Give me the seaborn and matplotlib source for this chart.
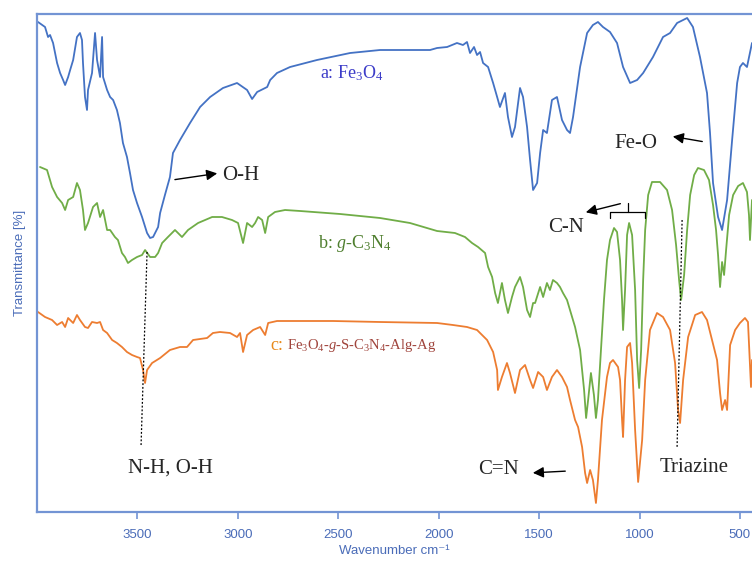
import pandas as pd
import matplotlib.pyplot as plt
import seaborn as sns

# FTIR spectra (wavenumber in cm-1, transmittance in arbitrary offset units)
wn_a = [3995, 3960, 3945, 3935, 3920, 3910, 3900, 3885, 3870, 3860, 3845, 3835, 3820, 3801,
        3786, 3776, 3771, 3761, 3751, 3746, 3726, 3711, 3701, 3686, 3676, 3671, 3651, 3636,
        3621, 3602, 3587, 3572, 3552, 3537, 3522, 3502, 3477, 3452, 3437, 3422, 3397, 3387,
        3363, 3338, 3323, 3288, 3238, 3188, 3138, 3074, 3004, 2954, 2929, 2904, 2854, 2839,
        2805, 2740, 2606, 2441, 2292, 2043, 2008, 1958, 1909, 1879, 1859, 1844, 1824, 1809,
        1794, 1779, 1754, 1729, 1709, 1695, 1670, 1655, 1635, 1620, 1595, 1580, 1560, 1545,
        1530, 1510, 1495, 1480, 1461, 1436, 1411, 1386, 1361, 1346, 1331, 1296, 1261, 1232,
        1207, 1182, 1147, 1112, 1082, 1047, 1012, 982, 933, 883, 848, 813, 763, 734, 699,
        664, 649, 634, 609, 589, 564, 539, 514, 500, 485, 465, 440]
t_a = [98.0, 97.0, 95.0, 95.4, 93.8, 91.8, 89.8, 87.8, 86.4, 85.4, 87.0, 88.4, 90.4, 95.0,
       95.8, 94.4, 89.8, 83.0, 80.4, 84.4, 87.8, 95.8, 90.4, 87.0, 95.0, 87.0, 84.4, 83.0,
       82.4, 80.4, 77.8, 73.8, 71.0, 67.8, 64.4, 61.8, 59.0, 55.8, 54.8, 55.0, 57.0, 59.8,
       63.4, 67.0, 71.8, 74.4, 77.8, 81.0, 83.0, 84.8, 85.8, 84.4, 82.6, 84.0, 85.0, 86.4,
       87.8, 89.0, 90.4, 91.8, 92.4, 92.4, 92.8, 93.0, 93.8, 93.4, 94.0, 91.8, 93.0, 91.4,
       92.0, 89.8, 89.0, 85.8, 83.0, 81.0, 83.8, 79.0, 75.0, 77.0, 84.8, 83.0, 77.0, 70.4,
       64.4, 65.8, 71.8, 76.4, 75.8, 82.4, 83.0, 78.4, 76.4, 75.8, 79.0, 89.0, 95.8, 97.4,
       98.0, 97.0, 96.0, 93.8, 89.0, 85.8, 86.4, 87.8, 91.0, 95.0, 95.8, 97.8, 98.8, 97.0, 91.0,
       83.8, 75.8, 65.8, 59.0, 56.4, 62.4, 74.4, 85.8, 89.0, 89.8, 89.0, 93.8]

wn_b = [3985, 3950, 3925, 3900, 3875, 3860, 3845, 3820, 3801, 3786, 3771, 3761, 3746, 3721,
        3701, 3686, 3671, 3651, 3636, 3612, 3597, 3577, 3562, 3547, 3527, 3502, 3477, 3462,
        3437, 3412, 3397, 3377, 3348, 3313, 3278, 3248, 3198, 3128, 3079, 3029, 2999, 2974,
        2954, 2929, 2914, 2899, 2879, 2864, 2849, 2815, 2765, 2690, 2491, 2292, 2143, 2008,
        1919, 1869, 1834, 1804, 1769, 1754, 1734, 1719, 1705, 1685, 1670, 1655, 1635, 1620,
        1595, 1580, 1560, 1545, 1530, 1520, 1495, 1480, 1461, 1446, 1431, 1411, 1396, 1381,
        1361, 1346, 1321, 1296, 1276, 1266, 1256, 1242, 1227, 1217, 1207, 1192, 1177, 1162,
        1147, 1127, 1112, 1097, 1087, 1082, 1072, 1062, 1052, 1037, 1022, 1012, 1002, 992,
        982, 972, 957, 938, 898, 863, 838, 818, 803, 793, 778, 763, 748, 728, 709, 679, 654,
        634, 619, 609, 599, 589, 579, 569, 554, 534, 509, 485, 465, 455, 450, 440]
t_b = [69.0, 68.4, 65.0, 63.0, 61.8, 60.4, 62.4, 63.0, 65.8, 64.4, 60.4, 56.4, 57.8, 61.0,
       61.8, 59.0, 60.4, 56.4, 56.4, 55.0, 54.4, 51.8, 51.0, 49.8, 50.4, 51.0, 51.4, 52.4,
       51.0, 51.0, 51.8, 53.8, 55.0, 56.4, 55.0, 56.4, 57.8, 59.0, 59.0, 58.4, 57.8, 53.8,
       57.8, 57.0, 57.8, 59.0, 58.4, 55.8, 59.0, 60.0, 60.4, 60.2, 59.6, 58.8, 57.8, 56.2,
       55.8, 55.0, 53.8, 53.0, 51.8, 49.0, 47.0, 43.8, 41.8, 45.8, 42.4, 39.8, 43.0, 45.0,
       47.0, 45.0, 40.4, 39.0, 41.8, 41.8, 45.0, 43.0, 45.8, 44.4, 46.4, 45.8, 45.0, 43.8,
       42.4, 40.4, 37.0, 32.4, 24.4, 18.8, 22.4, 27.8, 23.4, 18.8, 22.4, 32.4, 42.4, 50.4,
       54.4, 56.8, 56.0, 50.4, 42.4, 36.4, 44.4, 55.4, 57.8, 55.4, 44.4, 30.4, 24.8, 32.4,
       46.4, 56.4, 63.4, 66.0, 66.0, 64.4, 60.4, 53.4, 46.4, 42.4, 47.4, 56.4, 63.4, 67.4,
       68.8, 68.4, 66.4, 61.4, 56.4, 51.4, 45.0, 50.0, 47.4, 52.4, 59.4, 63.4, 65.2, 65.8,
       64.0, 59.4, 54.4, 62.4]

wn_c = [3995, 3960, 3925, 3900, 3875, 3860, 3845, 3820, 3801, 3786, 3761, 3746, 3726, 3701,
        3686, 3671, 3651, 3626, 3602, 3577, 3552, 3527, 3502, 3487, 3472, 3462, 3452, 3427,
        3387, 3338, 3288, 3253, 3223, 3153, 3124, 3089, 3039, 3004, 2989, 2974, 2954, 2924,
        2889, 2864, 2849, 2805, 2690, 2526, 2292, 2008, 1929, 1859, 1809, 1759, 1729, 1709,
        1705, 1685, 1660, 1645, 1620, 1595, 1570, 1545, 1530, 1505, 1480, 1461, 1436, 1411,
        1386, 1361, 1346, 1321, 1306, 1286, 1271, 1261, 1246, 1232, 1217, 1207, 1187, 1162,
        1147, 1132, 1107, 1097, 1087, 1082, 1072, 1062, 1047, 1037, 1022, 1007, 987, 972,
        948, 913, 883, 848, 823, 808, 798, 783, 758, 723, 689, 664, 639, 614, 599, 589, 574,
        564, 549, 524, 500, 475, 460, 445, 440]
t_c = [40.0, 39.0, 38.4, 37.4, 38.0, 37.0, 38.8, 37.8, 39.4, 38.4, 37.0, 36.8, 38.0, 37.8,
       38.0, 36.4, 35.8, 34.4, 33.8, 33.0, 32.0, 31.4, 31.0, 30.8, 28.4, 25.8, 28.4, 29.8,
       30.8, 32.4, 33.0, 33.0, 34.4, 34.8, 35.8, 36.0, 35.8, 35.0, 35.8, 32.0, 35.4, 36.4,
       37.0, 35.4, 37.8, 38.2, 38.2, 38.2, 38.0, 37.8, 37.4, 37.0, 36.4, 34.4, 32.0, 28.4,
       24.4, 27.0, 29.8, 27.8, 23.8, 28.4, 29.4, 26.4, 24.8, 28.0, 27.0, 24.4, 27.0, 28.4,
       27.0, 25.0, 22.4, 18.4, 17.0, 13.0, 7.8, 5.8, 8.4, 6.4, 1.8, 6.4, 18.4, 27.0,
       29.8, 30.4, 29.0, 26.4, 18.4, 15.0, 26.4, 33.0, 33.8, 29.8, 16.4, 6.0, 14.4, 26.4,
       36.4, 39.8, 39.0, 36.4, 29.8, 20.4, 17.8, 26.4, 35.0, 39.4, 40.0, 38.4, 34.4, 30.4, 23.8, 20.4, 22.4,
       20.4, 33.4, 36.4, 37.8, 38.8, 38.0, 25.0, 30.4]

tick_vals = [3500, 3000, 2500, 2000, 1500, 1000, 500]

frames = []
for name, wn, t in [("a", wn_a, t_a), ("b", wn_b, t_b), ("c", wn_c, t_c)]:
    frames.append(pd.DataFrame({"wn": wn, "T": t, "sample": name}))
df = pd.concat(frames, ignore_index=True)

sns.set_theme(style="white")
plt.rcParams['font.family'] = ['Liberation Serif', 'DejaVu Serif']
plt.rcParams['mathtext.fontset'] = 'custom'
plt.rcParams['mathtext.rm'] = 'Liberation Serif'
plt.rcParams['mathtext.it'] = 'Liberation Serif:italic'

colores = {"a": "#4472C4", "b": "#70AD47", "c": "#ED7D31"}
azul_eje = "#7394d4"
azul_txt = "#4a6cb8"

fig = plt.figure(figsize=(7.52, 5.63), dpi=100)
ax = fig.add_axes([37 / 752, 51 / 563, 715 / 752, 498 / 563])

for name in ["a", "b", "c"]:
    sns.lineplot(data=df[df["sample"] == name], x="wn", y="T", ax=ax, color=colores[name],
                 lw=1.3, sort=False, estimator=None)

ax.set_xlim(4000, 440)
ax.set_ylim(0, 99.6)
ax.set_xticks(tick_vals)
ax.set_yticks([])
for s in ["top", "left", "bottom"]:
    ax.spines[s].set_color(azul_eje)
    ax.spines[s].set_linewidth(1.6)
ax.spines["right"].set_visible(False)
ax.tick_params(axis="x", bottom=True, direction="out", length=5, width=1.2, color=azul_eje,
               labelcolor=azul_txt, labelsize=9.5, pad=7)
for lb in ax.get_xticklabels():
    lb.set_family(['Liberation Sans', 'DejaVu Sans'])

ax.set_xlabel("Wavenumber cm⁻¹", family=['Liberation Sans', 'DejaVu Sans'], fontsize=9.5,
              color=azul_txt, labelpad=3)
ax.set_ylabel("Transmittance [%]", family=['Liberation Sans', 'DejaVu Sans'], fontsize=9.5,
              color=azul_txt, labelpad=8)

# Etiquetas de cada curva
ax.text(2591, 87.8, "a: Fe$_3$O$_4$", color="#3c3cc8", fontsize=13, va="center")
ax.text(2601, 53.8, "b: $g$-C$_3$N$_4$", color="#4f7f2f", fontsize=13, va="center")
ax.text(2840, 33.4, "c:", color="#e8891a", fontsize=13, va="center")
ax.text(2756, 33.4, "Fe$_3$O$_4$-$g$-S-C$_3$N$_4$-Alg-Ag", color="#a0443c", fontsize=10.5,
        va="center")

# Anotaciones de bandas
flecha = dict(arrowstyle="-|>", color="black", lw=1.0, mutation_scale=16)
ax.annotate("", xy=(3089, 67.8), xytext=(3327, 66.4), arrowprops=flecha)
ax.text(3079, 67.4, "O-H", fontsize=15, va="center")
ax.annotate("", xy=(848, 75.2), xytext=(674, 74.0), arrowprops=flecha)
ax.text(1124, 73.8, "Fe-O", fontsize=15, va="center")
ax.annotate("", xy=(1281, 59.8), xytext=(1082, 61.8), arrowprops=flecha)
ax.text(1455, 56.8, "C-N", fontsize=15, va="center")
ax.plot([1147, 1147, 972, 972], [58.8, 60.0, 60.0, 58.8], color="black", lw=0.9)
ax.plot([1057, 1057], [60.0, 61.8], color="black", lw=0.9)
ax.annotate("", xy=(1545, 7.8), xytext=(1356, 8.2), arrowprops=flecha)
ax.text(1804, 8.4, "C=N", fontsize=15, va="center")
ax.plot([3452, 3482], [52.0, 13.2], color="black", lw=0.9, ls=(0, (1.5, 1.5)))
ax.text(3547, 8.8, "N-H, O-H", fontsize=15, va="center")
ax.plot([788, 813], [58.4, 13.0], color="black", lw=0.9, ls=(0, (1.5, 1.5)))
ax.text(898, 8.8, "Triazine", fontsize=15, va="center")

fig.savefig("out.png", dpi=100)
